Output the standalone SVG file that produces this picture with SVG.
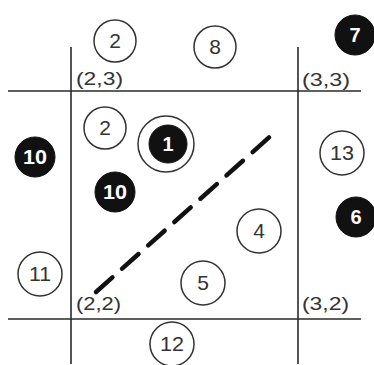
<svg xmlns="http://www.w3.org/2000/svg" width="374" height="365" viewBox="0 0 374 365">
<style>
.ln{stroke:#2a2a2a;stroke-width:1.6;fill:none}
.oc{fill:#fff;stroke:#333;stroke-width:1.5}
.bc{fill:#111;stroke:#111}
.ot{font-family:"Liberation Sans",Arial,sans-serif;font-size:21px;fill:#333;text-anchor:middle}
.bt{font-family:"Liberation Sans",Arial,sans-serif;font-size:20px;font-weight:bold;fill:#fff;text-anchor:middle}
.lb{font-family:"Liberation Sans",Arial,sans-serif;font-size:19px;fill:#333}
</style>
<rect width="374" height="365" fill="#fff"/>
<g id="connectors">
<line class="ln" x1="71" y1="47" x2="71" y2="364"/>
<line class="ln" x1="298" y1="47" x2="298" y2="364"/>
<line class="ln" x1="8" y1="91" x2="361" y2="91"/>
<line class="ln" x1="8" y1="319" x2="361" y2="319"/>
<line x1="96" y1="292" x2="274" y2="133" stroke="#111" stroke-width="4.5" stroke-dasharray="22 13" stroke-linecap="round"/>
</g>
<g id="label-23"><text class="lb" x="76" y="85" textLength="47" lengthAdjust="spacingAndGlyphs">(2,3)</text></g>
<g id="label-33"><text class="lb" x="302" y="86" textLength="48" lengthAdjust="spacingAndGlyphs">(3,3)</text></g>
<g id="label-22"><text class="lb" x="76" y="310" textLength="45" lengthAdjust="spacingAndGlyphs">(2,2)</text></g>
<g id="label-32"><text class="lb" x="302" y="310" textLength="47" lengthAdjust="spacingAndGlyphs">(3,2)</text></g>
<g id="n2top"><circle class="oc" cx="115" cy="41" r="21"/><text class="ot" x="115" y="48">2</text></g>
<g id="n8"><circle class="oc" cx="215" cy="47" r="21"/><text class="ot" x="215" y="54">8</text></g>
<g id="n7"><circle class="bc" cx="355" cy="35" r="20"/><text class="bt" x="355" y="42">7</text></g>
<g id="n2in"><circle class="oc" cx="105" cy="128" r="21"/><text class="ot" x="105" y="135">2</text></g>
<g id="n1"><circle class="oc" cx="166" cy="144" r="28"/><circle class="bc" cx="168" cy="144" r="19"/><text class="bt" x="168" y="151">1</text></g>
<g id="n10out"><circle class="bc" cx="35" cy="157" r="20"/><text class="bt" x="35" y="164" textLength="24" lengthAdjust="spacingAndGlyphs">10</text></g>
<g id="n10in"><circle class="bc" cx="115" cy="192" r="20"/><text class="bt" x="115" y="199" textLength="24" lengthAdjust="spacingAndGlyphs">10</text></g>
<g id="n13"><circle class="oc" cx="342" cy="153" r="22"/><text class="ot" x="342" y="160" textLength="24" lengthAdjust="spacingAndGlyphs">13</text></g>
<g id="n6"><circle class="bc" cx="356" cy="217" r="20"/><text class="bt" x="356" y="224">6</text></g>
<g id="n4"><circle class="oc" cx="259" cy="231" r="22"/><text class="ot" x="259" y="238">4</text></g>
<g id="n5"><circle class="oc" cx="203" cy="283" r="22"/><text class="ot" x="203" y="290">5</text></g>
<g id="n11"><circle class="oc" cx="40" cy="274" r="22"/><text class="ot" x="40" y="281" textLength="22" lengthAdjust="spacingAndGlyphs">11</text></g>
<g id="n12"><circle class="oc" cx="172" cy="344" r="22"/><text class="ot" x="172" y="351" textLength="24" lengthAdjust="spacingAndGlyphs">12</text></g>
</svg>
